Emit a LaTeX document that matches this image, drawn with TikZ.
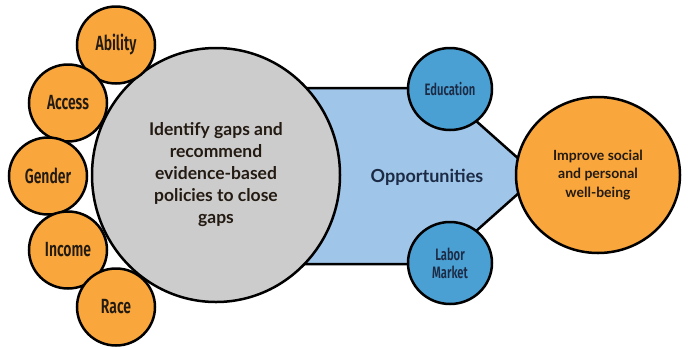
\documentclass[tikz,border=0pt]{standalone}
\usepackage{fontspec}
\setmainfont{Lato}
\newfontfamily\condfont[FakeStretch=0.68]{Fira Sans SemiBold}
\newfontfamily\latomed{Lato}
\usetikzlibrary{shapes.geometric}
\definecolor{orng}{HTML}{F9A63C}
\definecolor{gry}{HTML}{CCCCCC}
\definecolor{lblue}{HTML}{9FC5E8}
\definecolor{dblue}{HTML}{4A9FD3}
\definecolor{navy}{HTML}{1C2B45}
\definecolor{txtdark}{HTML}{231A12}
\begin{document}
\begin{tikzpicture}[x=1pt,y=-1pt,
  bub/.style={ellipse, draw=black, line width=2.5pt, inner sep=0pt, align=center},
  smallbub/.style={bub, fill=orng, minimum width=78pt, minimum height=77pt,
    font=\condfont\fontsize{20.5}{22}\selectfont, text=txtdark},
  bluebub/.style={bub, fill=dblue, minimum width=84pt, minimum height=82pt,
    font=\condfont\fontsize{16.5}{18}\selectfont, text=navy},
  plain/.style={inner sep=0pt, align=center}]
\useasboundingbox (0,0) rectangle (688,346);
% arrow body
\draw[line width=2.5pt, fill=lblue, line join=miter]
  (290,88) -- (439,88) -- (538,176) -- (439,264) -- (290,264) -- cycle;
% central circle
\node[bub, fill=gry, minimum width=248pt, minimum height=254pt,
  font=\latomed\bfseries\fontsize{17.5}{22}\selectfont, text=txtdark] (gap) at (216,175)
  {Identify gaps and\\recommend\\evidence-based\\policies to close\\gaps};
% left bubbles
\node[smallbub] (ability) at (116,45) {Ability};
\node[smallbub] (access) at (68,103) {Access};
\node[smallbub] (gender) at (48,176) {Gender};
\node[smallbub] (income) at (68,250) {Income};
\node[smallbub] (race) at (116,307) {Race};
% opportunities
\node[plain, font=\latomed\bfseries\fontsize{18}{22}\selectfont, text=navy] (opp) at (427,177) {Opportunities};
\node[bluebub] (edu) at (450,89) {Education};
\node[bluebub] (labor) at (450,263) {Labor\\Market};
% outcome
\node[bub, fill=orng, minimum width=164pt, minimum height=156pt,
  font=\latomed\bfseries\fontsize{14}{18.5}\selectfont, text=txtdark] (out) at (598,175)
  {Improve social\\and personal\\well-being};
\end{tikzpicture}
\end{document}
